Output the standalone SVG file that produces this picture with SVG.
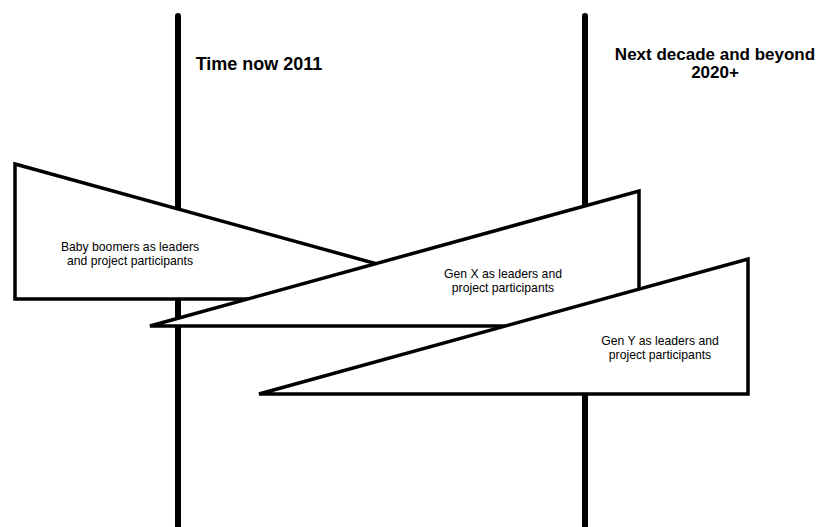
<svg xmlns="http://www.w3.org/2000/svg" width="830" height="527" viewBox="0 0 830 527">
<style>
.axis{stroke:#000;stroke-width:6;stroke-linecap:round;fill:none}
.tri{fill:#fff;stroke:#000;stroke-width:3.5;stroke-linejoin:miter}
.lbl{font-family:"Liberation Sans",Arial,sans-serif;font-size:12.2px;fill:#000;text-anchor:middle}
.hdr{font-family:"Liberation Sans",Arial,sans-serif;font-size:17px;font-weight:bold;fill:#000;text-anchor:middle}
</style>
<rect width="830" height="527" fill="#fff"/>
<g id="connectors">
<line class="axis" x1="178" y1="16" x2="178" y2="540"/>
<line class="axis" x1="585" y1="16" x2="585" y2="540"/>
</g>
<g id="header-now"><text class="hdr" x="259" y="70" style="font-size:18px">Time now 2011</text></g>
<g id="header-next"><text class="hdr" x="715" y="60">Next decade and beyond</text><text class="hdr" x="715" y="78">2020+</text></g>
<g id="baby-boomers">
<polygon class="tri" points="15,164 504,299 15,299"/>
<text class="lbl" x="130" y="251">Baby boomers as leaders</text>
<text class="lbl" x="130" y="265">and project participants</text>
</g>
<g id="gen-x">
<polygon class="tri" points="150,326 639,191 639,326"/>
<text class="lbl" x="503" y="278">Gen X as leaders and</text>
<text class="lbl" x="503" y="292">project participants</text>
</g>
<g id="gen-y">
<polygon class="tri" points="259,394 748,259 748,394"/>
<text class="lbl" x="660" y="345">Gen Y as leaders and</text>
<text class="lbl" x="660" y="359">project participants</text>
</g>
</svg>
